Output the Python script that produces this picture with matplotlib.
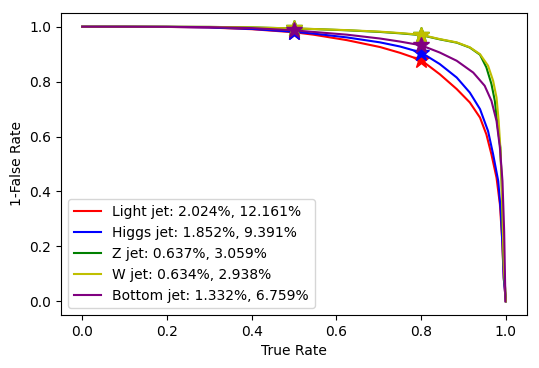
import matplotlib
matplotlib.use("Agg")
import matplotlib.pyplot as plt

names = ["Light jet", "Higgs jet", "Z jet", "W jet", "Bottom jet"]
colors = ["r", "b", "g", "y", "purple"]

# false rates (%) at true rate 0.5 and 0.8
fr50 = [2.024, 1.852, 0.637, 0.634, 1.332]
fr80 = [12.161, 9.391, 3.059, 2.938, 6.759]
star_x = [0.5, 0.8]

light_x = [0.0, 0.1, 0.2, 0.3, 0.4, 0.5, 0.546, 0.625, 0.703, 0.75, 0.8, 0.844, 0.884, 0.915, 0.939, 0.954, 0.966, 0.978, 0.986, 0.991, 0.995, 1.0]
light_y = [1.0, 0.9999, 0.9993, 0.997, 0.991, 0.9798, 0.971, 0.951, 0.926, 0.905, 0.8784, 0.827, 0.773, 0.724, 0.669, 0.608, 0.535, 0.450, 0.353, 0.231, 0.085, 0.0]

higgs_x = [0.0, 0.1, 0.2, 0.3, 0.4, 0.5, 0.546, 0.625, 0.703, 0.75, 0.8, 0.844, 0.884, 0.915, 0.939, 0.958, 0.970, 0.982, 0.988, 0.992, 0.995, 1.0]
higgs_y = [1.0, 0.9999, 0.9994, 0.9975, 0.992, 0.9815, 0.975, 0.961, 0.943, 0.928, 0.9061, 0.864, 0.815, 0.760, 0.700, 0.620, 0.535, 0.438, 0.328, 0.207, 0.085, 0.0]

z_x = [0.0, 0.1, 0.2, 0.3, 0.4, 0.5, 0.546, 0.625, 0.703, 0.75, 0.8, 0.844, 0.884, 0.915, 0.939, 0.954, 0.966, 0.974, 0.980, 0.987, 0.990, 0.992, 0.995, 1.0]
z_y = [1.0, 1.0, 0.9998, 0.9993, 0.9975, 0.9936, 0.9915, 0.987, 0.981, 0.976, 0.9694, 0.954, 0.942, 0.924, 0.898, 0.852, 0.791, 0.730, 0.645, 0.559, 0.438, 0.316, 0.134, 0.0]

w_x = [0.0, 0.1, 0.2, 0.3, 0.4, 0.5, 0.546, 0.625, 0.703, 0.75, 0.8, 0.844, 0.884, 0.915, 0.939, 0.958, 0.970, 0.978, 0.983, 0.987, 0.990, 0.992, 0.995, 1.0]
w_y = [1.0, 1.0, 0.9998, 0.9993, 0.9976, 0.9937, 0.9917, 0.9875, 0.982, 0.977, 0.9706, 0.955, 0.943, 0.925, 0.900, 0.858, 0.803, 0.742, 0.657, 0.559, 0.438, 0.316, 0.134, 0.0]

bottom_x = [0.0, 0.1, 0.2, 0.3, 0.4, 0.5, 0.546, 0.625, 0.703, 0.75, 0.8, 0.844, 0.884, 0.923, 0.950, 0.966, 0.978, 0.986, 0.992, 0.996, 0.999]
bottom_y = [1.0, 0.9999, 0.9996, 0.9985, 0.995, 0.9867, 0.981, 0.971, 0.957, 0.946, 0.9324, 0.906, 0.876, 0.833, 0.785, 0.730, 0.657, 0.559, 0.438, 0.255, 0.0]

xs = [light_x, higgs_x, z_x, w_x, bottom_x]
ys = [light_y, higgs_y, z_y, w_y, bottom_y]

fig = plt.figure(figsize=(5.39, 3.68), dpi=100)
ax = fig.add_axes([0.1132, 0.144, 0.8646, 0.8207])

for name, c, x, y, a, b in zip(names, colors, xs, ys, fr50, fr80):
    ax.plot(x, y, color=c, lw=1.5, label=f"{name}: {a:.3f}%, {b:.3f}%")
    ax.plot(star_x, [1 - a / 100, 1 - b / 100], linestyle="none", marker="*",
            color=c, markersize=12)

ax.set_xlabel("True Rate")
ax.set_ylabel("1-False Rate")
ax.set_xticks([0.0, 0.2, 0.4, 0.6, 0.8, 1.0])
ax.set_yticks([0.0, 0.2, 0.4, 0.6, 0.8, 1.0])
ax.legend(loc="lower left")

fig.savefig("out.png", dpi=100)
